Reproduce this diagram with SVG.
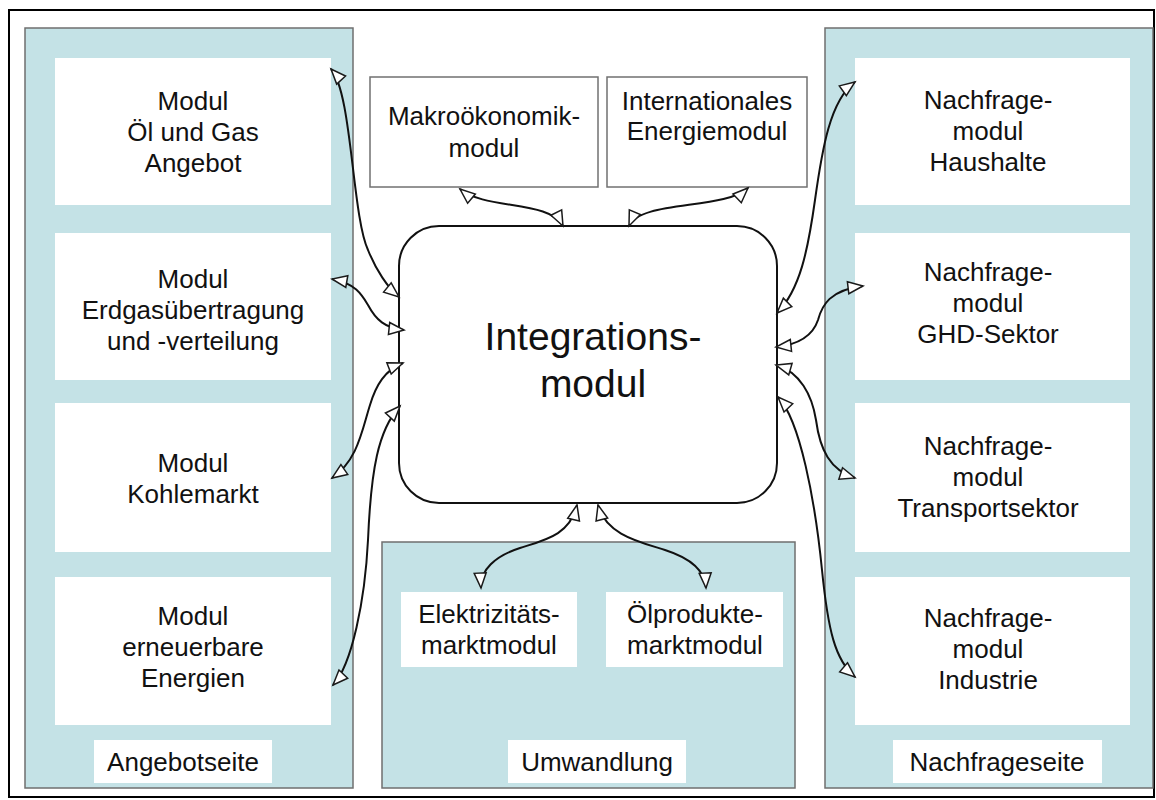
<svg xmlns="http://www.w3.org/2000/svg" width="1156" height="800" viewBox="0 0 1156 800">
<style>
text{font-family:"Liberation Sans",Arial,sans-serif;font-size:26px;fill:#111;text-anchor:middle}
.panel{fill:#c4e2e6;stroke:#6f6f6f;stroke-width:1.5}
.wb{fill:#fff;stroke:none}
.top{fill:#fff;stroke:#707070;stroke-width:1.5}
.con{fill:none;stroke:#111;stroke-width:2;marker-start:url(#ah);marker-end:url(#ah)}
</style>
<defs>
<marker id="ah" markerUnits="userSpaceOnUse" markerWidth="18" markerHeight="14" viewBox="-1 -1 18 14" refX="15" refY="6" orient="auto-start-reverse" overflow="visible">
<path d="M0,0 L15,6 L0,12 Z" fill="#fff" stroke="#1a1a1a" stroke-width="1.5" stroke-linejoin="miter"/>
</marker>
</defs>
<rect x="0" y="0" width="1156" height="800" fill="#fff"/>
<rect x="9" y="10" width="1145" height="787" fill="none" stroke="#000" stroke-width="2"/>

<g id="angebotseite">
<rect class="panel" x="25" y="28" width="328" height="760"/>
<rect class="wb" x="94" y="740" width="178" height="43"/>
<text x="183" y="771">Angebotseite</text>
</g>
<g id="nachfrageseite">
<rect class="panel" x="825" y="28" width="328" height="760"/>
<rect class="wb" x="893" y="740" width="209" height="43"/>
<text x="997" y="771">Nachfrageseite</text>
</g>
<g id="umwandlung">
<rect class="panel" x="382" y="542" width="413" height="246"/>
<rect class="wb" x="508" y="740" width="178" height="43"/>
<text x="597" y="771">Umwandlung</text>
</g>

<g id="oel-gas">
<rect class="wb" x="55" y="58" width="276" height="147"/>
<text x="193" y="110">Modul</text>
<text x="193" y="141">Öl und Gas</text>
<text x="193" y="172">Angebot</text>
</g>
<g id="erdgas">
<rect class="wb" x="55" y="233" width="276" height="147"/>
<text x="193" y="288">Modul</text>
<text x="193" y="319">Erdgasübertragung</text>
<text x="193" y="350">und -verteilung</text>
</g>
<g id="kohle">
<rect class="wb" x="55" y="403" width="276" height="149"/>
<text x="193" y="472">Modul</text>
<text x="193" y="503">Kohlemarkt</text>
</g>
<g id="erneuerbare">
<rect class="wb" x="55" y="577" width="276" height="148"/>
<text x="193" y="625">Modul</text>
<text x="193" y="656">erneuerbare</text>
<text x="193" y="687">Energien</text>
</g>

<g id="haushalte">
<rect class="wb" x="855" y="58" width="275" height="147"/>
<text x="988" y="109">Nachfrage-</text>
<text x="988" y="140">modul</text>
<text x="988" y="171">Haushalte</text>
</g>
<g id="ghd">
<rect class="wb" x="855" y="233" width="275" height="147"/>
<text x="988" y="281">Nachfrage-</text>
<text x="988" y="312">modul</text>
<text x="988" y="343">GHD-Sektor</text>
</g>
<g id="transport">
<rect class="wb" x="855" y="403" width="275" height="149"/>
<text x="988" y="455">Nachfrage-</text>
<text x="988" y="486">modul</text>
<text x="988" y="517">Transportsektor</text>
</g>
<g id="industrie">
<rect class="wb" x="855" y="577" width="275" height="148"/>
<text x="988" y="627">Nachfrage-</text>
<text x="988" y="658">modul</text>
<text x="988" y="689">Industrie</text>
</g>

<g id="makro">
<rect class="top" x="370" y="77" width="228" height="110"/>
<text x="484" y="125">Makroökonomik-</text>
<text x="484" y="157">modul</text>
</g>
<g id="international">
<rect class="top" x="607" y="77" width="200" height="110"/>
<text x="707" y="110">Internationales</text>
<text x="707" y="140">Energiemodul</text>
</g>

<g id="elektrizitaet">
<rect class="wb" x="401" y="592" width="176" height="75"/>
<text x="489" y="623">Elektrizitäts-</text>
<text x="489" y="654">marktmodul</text>
</g>
<g id="oelprodukte">
<rect class="wb" x="606" y="592" width="177" height="75"/>
<text x="695" y="623">Ölprodukte-</text>
<text x="695" y="654">marktmodul</text>
</g>

<g id="integration">
<rect x="399" y="226" width="378" height="277" rx="40" ry="40" fill="#fff" stroke="#111" stroke-width="2"/>
<text x="593" y="350" style="font-size:39px">Integrations-</text>
<text x="593" y="397" style="font-size:39px">modul</text>
</g>

<g id="connectors">
<path class="con" d="M331,69 C352,92 352,215 368,250 C376,270 388,288 399,297"/>
<path class="con" d="M332,279 C355,283 362,295 368,305 C376,320 385,328 404,330"/>
<path class="con" d="M332,478 C358,460 362,430 370,405 C376,385 385,370 403,363"/>
<path class="con" d="M333,685 C352,665 365,600 368,540 C371,470 378,430 400,406"/>
<path class="con" d="M460,189 C485,210 550,200 563,226"/>
<path class="con" d="M748,188 C725,210 640,200 629,226"/>
<path class="con" d="M855,82 C830,100 822,150 815,200 C808,250 800,290 777,313"/>
<path class="con" d="M863,286 C830,290 822,305 818,320 C812,338 795,345 776,347"/>
<path class="con" d="M776,365 C800,372 812,395 816,420 C820,450 830,470 855,478"/>
<path class="con" d="M778,397 C800,420 815,500 822,570 C828,630 835,660 855,677"/>
<path class="con" d="M577,505 C570,535 545,540 520,548 C495,556 480,570 481,588"/>
<path class="con" d="M598,505 C606,535 640,542 665,550 C690,558 705,570 706,588"/>
</g>
</svg>
